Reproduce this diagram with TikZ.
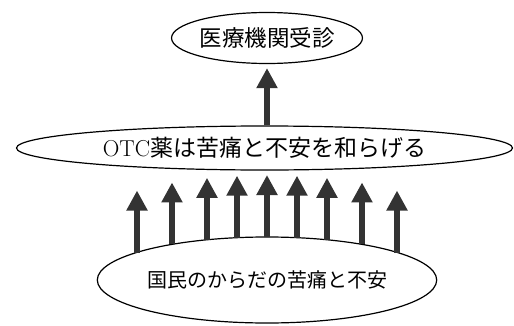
\documentclass[tikz,border=0pt]{standalone}
\usepackage{fontspec}
\newfontfamily\cjk{Noto Sans CJK JP}
\usetikzlibrary{arrows.meta,calc,shapes.geometric}
\definecolor{arrowgray}{HTML}{333333}
\tikzset{
  oval/.style={draw=black, line width=1.2pt, ellipse, inner sep=0pt, fill=white},
  uparrow/.style={draw=arrowgray, line width=6pt, -{Triangle[width=20pt,length=20pt]}, arrowgray},
}
\begin{document}
\begin{tikzpicture}[x=1pt,y=1pt]
\useasboundingbox (0,0) rectangle (514,325);
\node[oval, minimum width=166pt, minimum height=51pt] (top) at (267,287)
  {\fontsize{22.5pt}{24pt}\selectfont\cjk 医療機関受診};
\node[oval, minimum width=496pt, minimum height=44pt] (mid) at (264.5,177)
  {\fontsize{23pt}{25pt}\selectfont OTC\cjk 薬は苦痛と不安を和らげる};
\node[oval, minimum width=338pt, minimum height=86pt] (bot) at (267,45)
  {\fontsize{20pt}{22pt}\selectfont\cjk 国民のからだの苦痛と不安};
\coordinate (toptip) at ($(top.south)+(0,-4)$);
\draw[uparrow] (mid.north -| toptip) -- (toptip);
\foreach \dx in {-130,-95,-60,-30,0,30,60,95,130} {
  \pgfmathsetmacro\dy{43*sqrt(1-(\dx/169)^2)}
  \draw[uparrow] ($(bot.center)+(\dx,\dy)$) -- ++(0,62);
}
\end{tikzpicture}
\end{document}
